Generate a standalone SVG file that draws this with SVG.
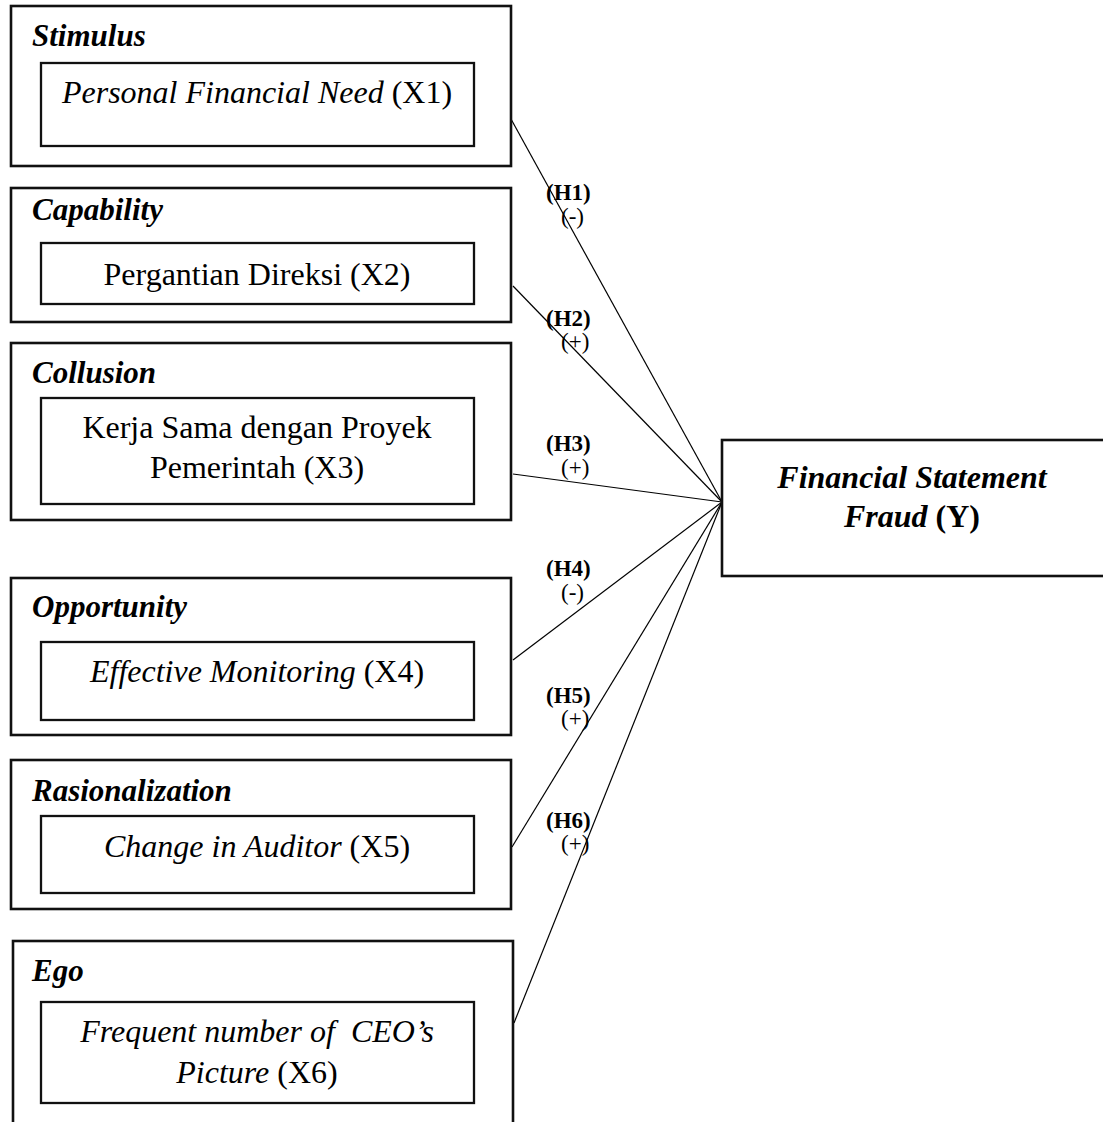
<svg xmlns="http://www.w3.org/2000/svg" width="1103" height="1122" viewBox="0 0 1103 1122">
<style>
.outer{fill:none;stroke:#111;stroke-width:2.6}
.inner{fill:none;stroke:#111;stroke-width:2.3}
.conn{stroke:#000;stroke-width:1.2;fill:none}
.t{font-family:"Liberation Serif","Times New Roman",serif;fill:#000}
.cat{font-size:31px;font-weight:bold;font-style:italic}
.var{font-size:32px;text-anchor:middle}
.it{font-style:italic}
.hl{font-size:23px;font-weight:bold}
.sg{font-size:23px}
.y{font-size:32px;font-weight:bold;text-anchor:middle}
</style>
<rect width="1103" height="1122" fill="#fff"/>
<g id="connectors">
<line class="conn" x1="511" y1="119" x2="722" y2="502"/>
<line class="conn" x1="513" y1="286" x2="722" y2="502"/>
<line class="conn" x1="513" y1="474" x2="722" y2="502"/>
<line class="conn" x1="513" y1="660" x2="722" y2="502"/>
<line class="conn" x1="512" y1="847" x2="722" y2="502"/>
<line class="conn" x1="514" y1="1023" x2="722" y2="502"/>
<g id="labels">
<text class="t hl" x="546" y="200">(H1)</text><text class="t sg" x="561" y="224">(-)</text>
<text class="t hl" x="546" y="326">(H2)</text><text class="t sg" x="561" y="349">(+)</text>
<text class="t hl" x="546" y="451">(H3)</text><text class="t sg" x="561" y="475">(+)</text>
<text class="t hl" x="546" y="576">(H4)</text><text class="t sg" x="561" y="600">(-)</text>
<text class="t hl" x="546" y="703">(H5)</text><text class="t sg" x="561" y="726">(+)</text>
<text class="t hl" x="546" y="828">(H6)</text><text class="t sg" x="561" y="851">(+)</text>
</g>
</g>
<g id="stimulus">
<rect class="outer" x="11" y="6" width="500" height="160"/>
<text class="t cat" x="32" y="46">Stimulus</text>
<rect class="inner" x="41" y="63" width="433" height="83"/>
<text class="t var" x="257" y="103"><tspan class="it">Personal Financial Need</tspan> (X1)</text>
</g>
<g id="capability">
<rect class="outer" x="11" y="188" width="500" height="134"/>
<text class="t cat" x="32" y="220">Capability</text>
<rect class="inner" x="41" y="243" width="433" height="61"/>
<text class="t var" x="257" y="285">Pergantian Direksi (X2)</text>
</g>
<g id="collusion">
<rect class="outer" x="11" y="343" width="500" height="177"/>
<text class="t cat" x="32" y="383">Collusion</text>
<rect class="inner" x="41" y="398" width="433" height="106"/>
<text class="t var" x="257" y="438">Kerja Sama dengan Proyek</text>
<text class="t var" x="257" y="478">Pemerintah (X3)</text>
</g>
<g id="opportunity">
<rect class="outer" x="11" y="578" width="500" height="157"/>
<text class="t cat" x="32" y="617">Opportunity</text>
<rect class="inner" x="41" y="642" width="433" height="78"/>
<text class="t var" x="257" y="682"><tspan class="it">Effective Monitoring</tspan> (X4)</text>
</g>
<g id="rasionalization">
<rect class="outer" x="11" y="760" width="500" height="149"/>
<text class="t cat" x="32" y="801">Rasionalization</text>
<rect class="inner" x="41" y="816" width="433" height="77"/>
<text class="t var" x="257" y="857"><tspan class="it">Change in Auditor</tspan> (X5)</text>
</g>
<g id="ego">
<rect class="outer" x="13" y="941" width="500" height="200"/>
<text class="t cat" x="32" y="981">Ego</text>
<rect class="inner" x="41" y="1002" width="433" height="101"/>
<text class="t var it" x="257" y="1042" xml:space="preserve">Frequent number of  CEO’s</text>
<text class="t var" x="257" y="1083"><tspan class="it">Picture</tspan> (X6)</text>
</g>
<g id="fraud">
<rect class="outer" x="722" y="440" width="390" height="136"/>
<text class="t y it" x="912" y="488">Financial Statement</text>
<text class="t y" x="912" y="527"><tspan class="it">Fraud</tspan> (Y)</text>
</g>
</svg>
